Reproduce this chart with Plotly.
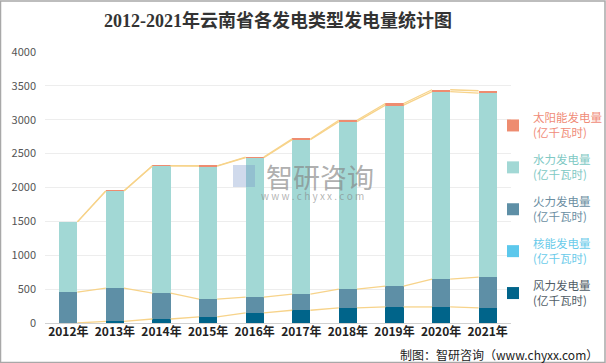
import plotly.graph_objects as go

years = ["2012年", "2013年", "2014年", "2015年", "2016年", "2017年", "2018年", "2019年", "2020年", "2021年"]
wind = [0, 25, 59, 89, 148, 188, 222, 237, 237, 222]
nuclear = [0, 0, 0, 0, 0, 0, 0, 0, 0, 0]
thermal = [455, 489, 381, 262, 233, 237, 277, 307, 410, 455]
hydro = [1037, 1435, 1878, 1965, 2059, 2280, 2474, 2671, 2768, 2716]
solar = [0, 2, 3, 5, 10, 12, 20, 25, 28, 35]

names = ["风力发电量", "核能发电量", "火力发电量", "水力发电量", "太阳能发电量"]
series = [wind, nuclear, thermal, hydro, solar]
colors = ["#00648A", "#5CC8EC", "#5E8FA6", "#A2D8D5", "#EE8C70"]
text_colors = ["#4F5C66", "#6ACBEA", "#6A8EA2", "#80C9C4", "#F08C78"]

x = list(range(len(years)))
bw = 0.39

fig = go.Figure()

# series lines connecting stack tops between bars
cum = [0] * len(years)
for k, s in enumerate(series):
    cum = [c + v for c, v in zip(cum, s)]
    if k == 1:
        continue
    lx, ly = [], []
    for i in range(len(years) - 1):
        lx += [x[i] + bw / 2, x[i + 1] - bw / 2, None]
        ly += [cum[i], cum[i + 1], None]
    fig.add_trace(go.Scatter(x=lx, y=ly, mode="lines", line=dict(color="#F7D38A", width=1.3),
                             showlegend=False, hoverinfo="skip"))

n_series = len(series)
for k, (n, s, c, tc) in enumerate(zip(names, series, colors, text_colors)):
    fig.add_trace(go.Bar(
        x=x, y=s, width=bw, marker=dict(color=c, line=dict(width=0)),
        name=f"<span style='color:{tc}'>{n}<br>(亿千瓦时)</span>",
        legendgroup=str(k), legendrank=n_series - k,
    ))

L, R, T, B = 45, 95, 52, 40
W, H = 606, 363
pw, ph = W - L - R, H - T - B

fig.update_layout(
    width=W, height=H,
    margin=dict(l=L, r=R, t=T, b=B, pad=0, autoexpand=False),
    barmode="stack",
    plot_bgcolor="white", paper_bgcolor="white",
    title=dict(text="<b>2012-2021年云南省各发电类型发电量统计图</b>", x=0.5, xref="paper", xanchor="center",
               y=1 - 21 / H, yanchor="middle",
               font=dict(family="Liberation Serif, Noto Sans CJK SC", size=18, color="#333333")),
    xaxis=dict(range=[-0.5, 9.5], tickmode="array", tickvals=x, ticktext=years,
               showgrid=False, zeroline=False, showline=False, ticks="",
               tickfont=dict(family="Noto Sans CJK SC", size=12, color="#222222", weight="bold")),
    yaxis=dict(range=[0, 4000], dtick=500, showgrid=True, gridcolor="#EDEDED", gridwidth=1,
               zeroline=True, zerolinecolor="#D0D0D0", zerolinewidth=1,
               ticks="", ticklabelstandoff=8,
               tickfont=dict(family="Noto Sans CJK SC", size=11, color="#555555")),
    legend=dict(x=1 - 18 / pw, y=1 - 52 / ph, xanchor="left", yanchor="top",
                traceorder="grouped", tracegroupgap=9,
                font=dict(family="Noto Sans CJK SC", size=11.5),
                itemwidth=30, bgcolor="rgba(0,0,0,0)"),
    showlegend=True,
)

fig.add_annotation(text="智研咨询", xref="paper", yref="paper", x=(320 - L) / pw, y=1 - (176 - T) / ph,
                   showarrow=False, font=dict(family="Noto Sans CJK SC", size=27, color="rgba(130,130,130,0.65)"))
fig.add_annotation(text="w w w . c h y x x . c o m", xref="paper", yref="paper", x=(312 - L) / pw, y=1 - (195 - T) / ph,
                   showarrow=False, font=dict(family="Noto Sans CJK SC", size=10, color="rgba(130,130,130,0.6)"))
fig.add_shape(type="rect", xref="paper", yref="paper", x0=(233 - L) / pw, x1=(255 - L) / pw,
              y0=1 - (187 - T) / ph, y1=1 - (165 - T) / ph,
              fillcolor="rgba(120,150,200,0.35)", line=dict(width=0))
fig.add_annotation(text="制图：智研咨询（www.chyxx.com）", xref="paper", yref="paper",
                   x=(600 - L) / pw, y=1 - (354 - T) / ph, xanchor="right", yanchor="middle",
                   showarrow=False, font=dict(family="Noto Sans CJK SC", size=12, color="#222222"))
fig.add_shape(type="rect", xref="paper", yref="paper", x0=-L / pw + 0.5 / pw, x1=1 + (R - 1) / pw,
              y0=-B / ph + 0.5 / ph, y1=1 + (T - 1) / ph, line=dict(color="#A8A8A8", width=1.5),
              fillcolor="rgba(0,0,0,0)", layer="above")

fig.write_html("out.html", config={"displayModeBar": False},
               post_script="document.body.style.margin='0';document.body.style.padding='0';document.body.style.overflow='hidden';")
